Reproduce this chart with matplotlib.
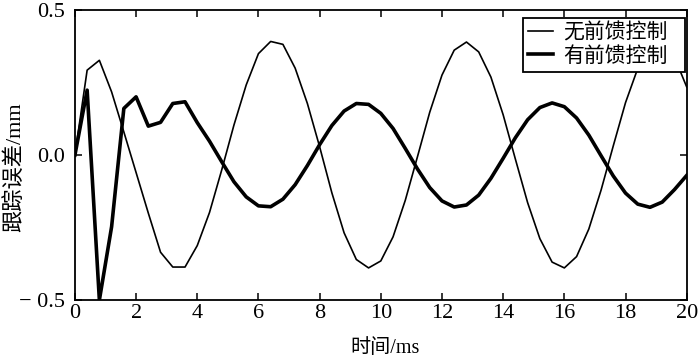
import numpy as np
import matplotlib.pyplot as plt

# 时间 (ms)，采样间隔 0.4 ms
t = np.arange(0, 20.01, 0.4)

# 无前馈控制
err_no_ff = [0.0, 0.293, 0.327, 0.218, 0.08, -0.06, -0.2, -0.335, -0.386, -0.386,
             -0.312, -0.198, -0.051, 0.104, 0.242, 0.35, 0.392, 0.382, 0.300, 0.178,
             0.029, -0.13, -0.268, -0.36, -0.389, -0.365, -0.282, -0.156, -0.005, 0.148,
             0.276, 0.362, 0.390, 0.356, 0.269, 0.139, -0.014, -0.164, -0.288, -0.369,
             -0.389, -0.350, -0.255, -0.121, 0.032, 0.181, 0.299, 0.373, 0.387, 0.338,
             0.235]

# 有前馈控制
err_ff = [0.0, 0.224, -0.5, -0.247, 0.161, 0.201, 0.10, 0.113, 0.178, 0.184,
          0.112, 0.048, -0.023, -0.092, -0.144, -0.175, -0.178, -0.152, -0.102, -0.036,
          0.036, 0.102, 0.152, 0.178, 0.175, 0.144, 0.092, 0.023, -0.048, -0.112,
          -0.158, -0.179, -0.172, -0.138, -0.080, -0.011, 0.060, 0.122, 0.164, 0.180,
          0.167, 0.128, 0.069, -0.002, -0.072, -0.131, -0.169, -0.180, -0.162, -0.119,
          -0.07]

labels = ['无前馈控制', '有前馈控制']
fam = ['Liberation Serif', 'Noto Sans CJK SC']
plt.rcParams['font.family'] = fam
plt.rcParams['axes.unicode_minus'] = True

fig = plt.figure(figsize=(7, 3.62), dpi=100)
ax = fig.add_axes([0.107, 0.171, 0.874, 0.801])

ax.plot(t, err_no_ff, color='k', lw=1.2, label=labels[0])
ax.plot(t, err_ff, color='k', lw=2.6, label=labels[1])

ax.set_xlim(0, 20)
ax.set_ylim(-0.5, 0.5)
ax.set_xticks(np.arange(0, 21, 2))
ax.set_yticks([-0.5, 0.0, 0.5])
ax.set_yticklabels(['\u2212 0.5', '0.0', '0.5'])
ax.tick_params(axis='both', direction='in', top=True, right=True, length=5,
               width=1.1, labelsize=16)
ax.tick_params(axis='y', pad=7)
ax.tick_params(axis='x', pad=3)
for s in ax.spines.values():
    s.set_linewidth(1.3)

ax.set_xlabel('时间/ms', fontsize=14.5)
ax.set_ylabel('跟踪误差/mm', fontsize=16)
ax.xaxis.set_label_coords(0.507, -0.135)
ax.yaxis.set_label_coords(-0.082, 0.46)

leg = ax.legend(loc='upper right', bbox_to_anchor=(0.732, 0.78, 0.2647, 0.192),
                mode='expand', fontsize=15, fancybox=False, edgecolor='k',
                framealpha=1, handlelength=1.2, handletextpad=0.5,
                borderpad=0.25, labelspacing=0.15, borderaxespad=0)
leg.get_frame().set_linewidth(1.3)

fig.savefig('out.png', dpi=100)
